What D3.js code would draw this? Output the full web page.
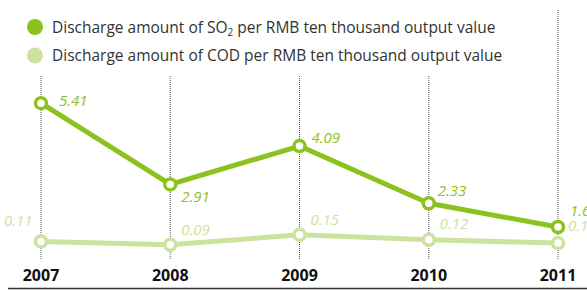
<!DOCTYPE html>
<html>
<head>
<meta charset="utf-8">
<script src="https://cdn.jsdelivr.net/npm/d3@7"></script>
<style>
  body { margin: 0; background: #fff; }
  svg { display: block; }
</style>
</head>
<body>
<div id="chart"></div>
<script>
const years = ['2007', '2008', '2009', '2010', '2011'];
const so2Values = [5.41, 2.91, 4.09, 2.33, 1.6];
const codValues = [0.11, 0.09, 0.15, 0.12, 0.1];
const so2Labels = ['5.41', '2.91', '4.09', '2.33', '1.6'];
const codLabels = ['0.11', '0.09', '0.15', '0.12', '0.1'];

const dark = '#8cc21e';
const light = '#cbe39c';

const W = 587, H = 290;
const svg = d3.select('#chart').append('svg').attr('width', W).attr('height', H);

const x = d3.scalePoint().domain(years).range([41, 558]);
// the two series are on their own scales
const ySo2 = d3.scaleLinear().domain([0, 6]).range([279, 84]);
const yCod = d3.scaleLinear().domain([0, 0.2]).range([259.6, 226.6]);

// dotted year guides
svg.selectAll('line.grid')
    .data(years)
    .enter().append('line')
    .attr('class', 'grid')
    .attr('x1', d => x(d)).attr('x2', d => x(d))
    .attr('y1', (d, i) => i === years.length - 1 ? 10 : 76)
    .attr('y2', 260)
    .attr('stroke', '#555')
    .attr('stroke-width', 1)
    .attr('stroke-dasharray', '1,1');

// bottom rule
svg.append('line')
    .attr('x1', 8).attr('x2', W)
    .attr('y1', 288.5).attr('y2', 288.5)
    .attr('stroke', '#333').attr('stroke-width', 1.5);

// year labels
svg.selectAll('text.year')
    .data(years)
    .enter().append('text')
    .attr('class', 'year')
    .attr('x', d => x(d))
    .attr('y', 281)
    .attr('text-anchor', 'middle')
    .attr('font-family', 'Open Sans, sans-serif')
    .attr('font-weight', 'bold')
    .attr('font-size', 16)
    .attr('fill', '#111')
    .text(d => d);

function drawSeries(values, yScale, color) {
    const pts = values.map((v, i) => ({ year: years[i], v: v }));
    const line = d3.line().x(d => x(d.year)).y(d => yScale(d.v));
    svg.append('path')
        .attr('fill', 'none')
        .attr('stroke', color)
        .attr('stroke-width', 5)
        .attr('stroke-linejoin', 'round')
        .attr('d', line(pts));
    svg.selectAll(null)
        .data(pts)
        .enter().append('circle')
        .attr('cx', d => x(d.year))
        .attr('cy', d => yScale(d.v))
        .attr('r', 5.5)
        .attr('fill', '#fff')
        .attr('stroke', color)
        .attr('stroke-width', 3.5);
    return pts;
}

const codPts = drawSeries(codValues, yCod, light);
const so2Pts = drawSeries(so2Values, ySo2, dark);

// label offsets from each point
const so2Off = [[18, 3], [11, 18], [12, -3], [9, -7], [12, -11]];
const codOff = [[-37, -15], [11, -10], [11, -10], [11, -11], [10, -12]];

function drawLabels(pts, labels, yScale, off, color) {
    svg.selectAll(null)
        .data(pts)
        .enter().append('text')
        .attr('x', (d, i) => x(d.year) + off[i][0])
        .attr('y', (d, i) => yScale(d.v) + off[i][1])
        .attr('font-family', 'Open Sans, sans-serif')
        .attr('font-style', 'italic')
        .attr('font-size', 15)
        .attr('fill', color)
        .text((d, i) => labels[i]);
}
drawLabels(codPts, codLabels, yCod, codOff, light);
drawLabels(so2Pts, so2Labels, ySo2, so2Off, dark);

// legend
const legend = [
    { color: dark, pre: 'Discharge amount of SO', sub: '2', post: ' per RMB ten thousand output value' },
    { color: light, pre: 'Discharge amount of COD per RMB ten thousand output value', sub: '', post: '' }
];
const lg = svg.selectAll('g.legend')
    .data(legend)
    .enter().append('g')
    .attr('class', 'legend')
    .attr('transform', (d, i) => 'translate(35,' + (27 + i * 28.5) + ')');
lg.append('circle').attr('r', 8).attr('fill', d => d.color);
const lt = lg.append('text')
    .attr('x', 17).attr('y', 5.5)
    .attr('font-family', 'Open Sans, sans-serif')
    .attr('font-size', 15.5)
    .attr('fill', '#333');
lt.append('tspan').text(d => d.pre);
lt.append('tspan').attr('font-size', 10).attr('dy', 3).text(d => d.sub);
lt.append('tspan').attr('dy', d => d.sub ? -3 : 0).text(d => d.post);
</script>
</body>
</html>
